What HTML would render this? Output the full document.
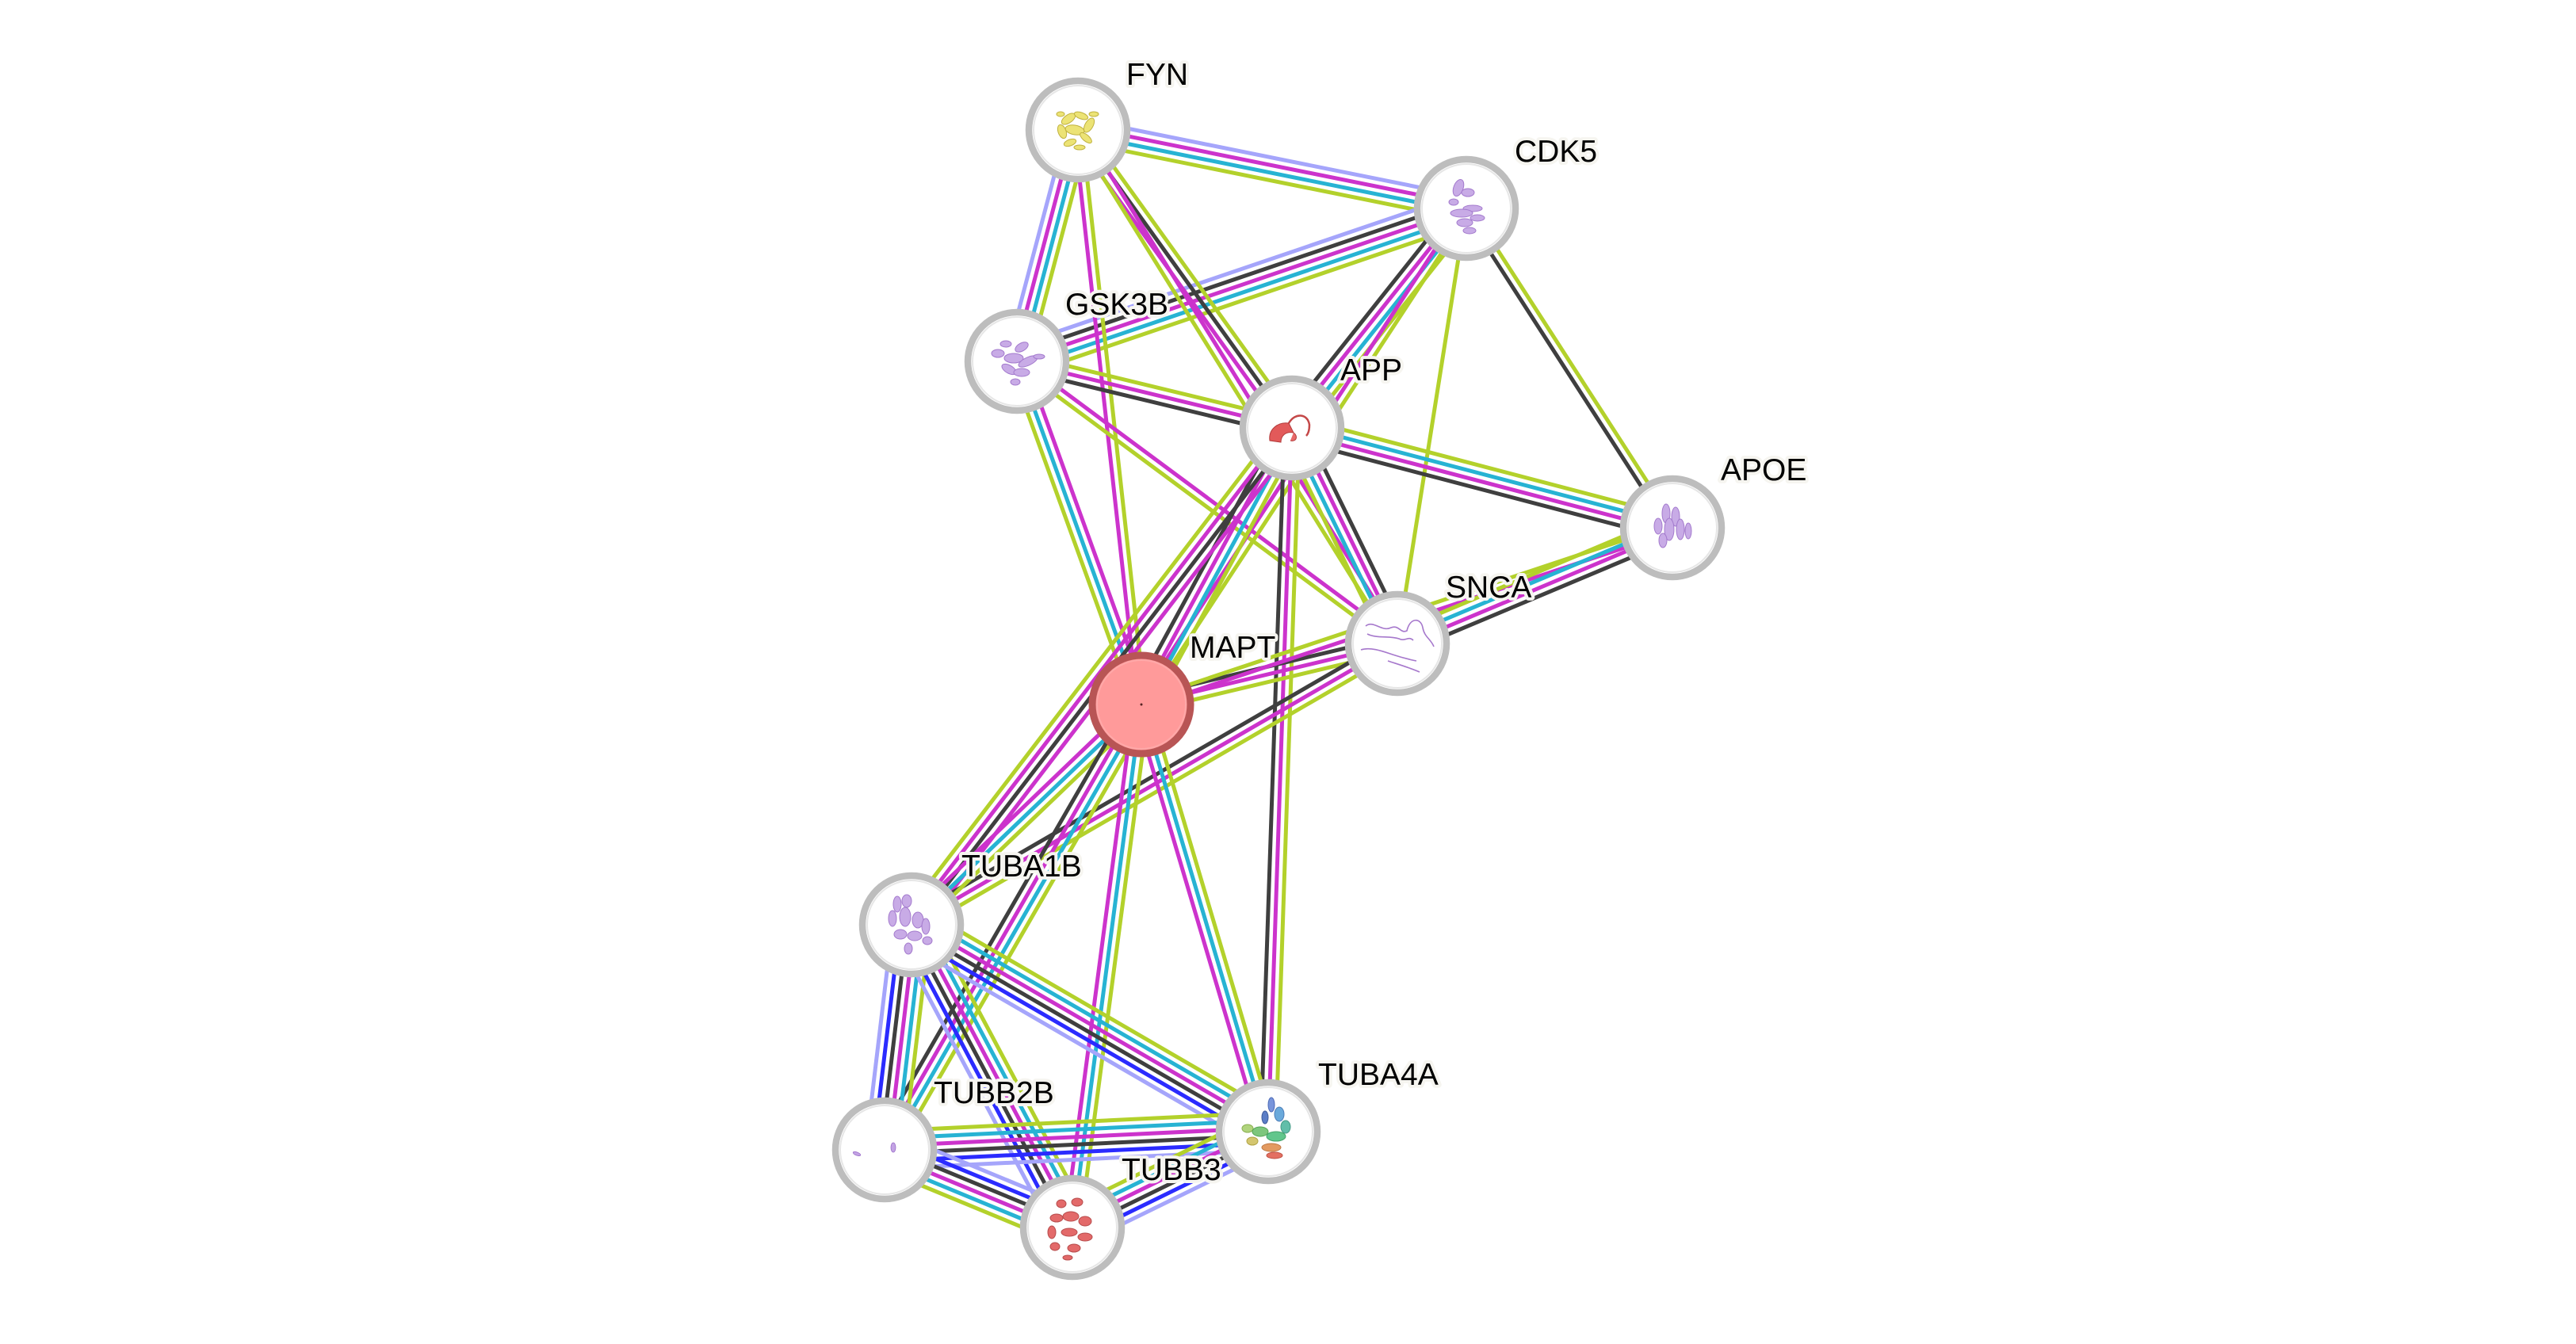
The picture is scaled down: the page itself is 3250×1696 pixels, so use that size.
<!DOCTYPE html>
<html>
<head>
<meta charset="utf-8">
<style>
  html, body { margin: 0; padding: 0; background: #ffffff; }
  svg { display: block; }
  .e path { fill: none; stroke-width: 5; }
  .v { stroke: #a5a5fb; }
  .b { stroke: #2b2bff; }
  .k { stroke: #3f3f3f; }
  .m { stroke: #cc33cc; }
  .c { stroke: #27b3d3; }
  .l { stroke: #b3d12b; }
  .ring { fill: #ffffff; stroke: #bdbdbd; stroke-width: 8.5; }
  .inner { fill: none; stroke: #e6e6e6; stroke-width: 2; }
  text { font-family: "Liberation Sans", Arial, sans-serif; font-size: 39px; fill: #000; stroke: #f6f5f0; stroke-width: 8; stroke-linejoin: round; paint-order: stroke; }
</style>
</head>
<body>
<svg width="3250" height="1696" viewBox="0 0 3250 1696" xmlns="http://www.w3.org/2000/svg">
<rect width="3250" height="1696" fill="#ffffff"/>

<g class="e">
  <!-- FYN-CDK5 -->
  <g transform="translate(1360 164) rotate(11.42)">
    <path class="v" d="M0 -14.25H500"/><path class="m" d="M0 -4.75H500"/><path class="c" d="M0 4.75H500"/><path class="l" d="M0 14.25H500"/>
  </g>
  <!-- FYN-GSK3B -->
  <g transform="translate(1360 164) rotate(104.77)">
    <path class="l" d="M0 -14.25H302"/><path class="c" d="M0 -4.75H302"/><path class="m" d="M0 4.75H302"/><path class="v" d="M0 14.25H302"/>
  </g>
  <!-- CDK5-GSK3B -->
  <g transform="translate(1850 263) rotate(161.2)">
    <path class="l" d="M0 -19H599"/><path class="c" d="M0 -9.5H599"/><path class="m" d="M0 0H599"/><path class="k" d="M0 9.5H599"/><path class="v" d="M0 19H599"/>
  </g>
  <!-- FYN-APP -->
  <g transform="translate(1360 164) rotate(54.32)">
    <path class="l" d="M0 -9.5H463"/><path class="k" d="M0 0H463"/><path class="m" d="M0 9.5H463"/>
  </g>
  <!-- FYN-SNCA -->
  <g transform="translate(1360 164) rotate(58.13)">
    <path class="m" d="M0 -4.75H763"/><path class="l" d="M0 4.75H763"/>
  </g>
  <!-- FYN-MAPT -->
  <g transform="translate(1360 164) rotate(83.70)">
    <path class="l" d="M0 -4.75H729"/><path class="m" d="M0 4.75H729"/>
  </g>
  <!-- GSK3B-APP -->
  <g transform="translate(1283 456) rotate(13.61)">
    <path class="l" d="M0 -9.5H357"/><path class="m" d="M0 0H357"/><path class="k" d="M0 9.5H357"/>
  </g>
  <!-- GSK3B-SNCA -->
  <g transform="translate(1283 456) rotate(36.56)">
    <path class="m" d="M0 -4.75H598"/><path class="l" d="M0 4.75H598"/>
  </g>
  <!-- GSK3B-MAPT -->
  <g transform="translate(1283 456) rotate(70.07)">
    <path class="m" d="M0 -9.5H461"/><path class="c" d="M0 0H461"/><path class="l" d="M0 9.5H461"/>
  </g>
  <!-- CDK5-APP -->
  <g transform="translate(1850 263) rotate(128.46)">
    <path class="l" d="M0 -14.25H354"/><path class="c" d="M0 -4.75H354"/><path class="m" d="M0 4.75H354"/><path class="k" d="M0 14.25H354"/>
  </g>
  <!-- CDK5-MAPT -->
  <g transform="translate(1850 263) rotate(123.22)">
    <path class="l" d="M0 -4.75H748"/><path class="m" d="M0 4.75H748"/>
  </g>
  <!-- CDK5-SNCA -->
  <g transform="translate(1850 263) rotate(99)">
    <path class="l" d="M0 0H556"/>
  </g>
  <!-- CDK5-APOE -->
  <g transform="translate(1850 263) rotate(57.17)">
    <path class="l" d="M0 -4.75H480"/><path class="k" d="M0 4.75H480"/>
  </g>
  <!-- APP-APOE -->
  <g transform="translate(1630 540) rotate(14.71)">
    <path class="l" d="M0 -14.25H496"/><path class="c" d="M0 -4.75H496"/><path class="m" d="M0 4.75H496"/><path class="k" d="M0 14.25H496"/>
  </g>
  <!-- APP-SNCA -->
  <g transform="translate(1630 540) rotate(63.94)">
    <path class="k" d="M0 -14.25H303"/><path class="m" d="M0 -4.75H303"/><path class="c" d="M0 4.75H303"/><path class="l" d="M0 14.25H303"/>
  </g>
  <!-- APP-MAPT -->
  <g transform="translate(1630 540) rotate(118.56)">
    <path class="l" d="M0 -14.25H397"/><path class="c" d="M0 -4.75H397"/><path class="m" d="M0 4.75H397"/><path class="k" d="M0 14.25H397"/>
  </g>
  <!-- APP-TUBA1B -->
  <g transform="translate(1630 540) rotate(127.44)">
    <path class="m" d="M0 -14.25H790"/><path class="k" d="M0 -4.75H790"/><path class="m" d="M0 4.75H790"/><path class="l" d="M0 14.25H790"/>
  </g>
  <!-- APP-TUBA4A -->
  <g transform="translate(1630 540) rotate(91.93)">
    <path class="l" d="M0 -9.5H889"/><path class="m" d="M0 0H889"/><path class="k" d="M0 9.5H889"/>
  </g>
  <!-- MAPT-SNCA -->
  <g transform="translate(1440 889) rotate(-13.41)">
    <path class="k" d="M0 -9.5H332"/><path class="m" d="M0 0H332"/><path class="l" d="M0 9.5H332"/>
  </g>
  <!-- MAPT-APOE -->
  <g transform="translate(1440 889) rotate(-18.41)">
    <path class="l" d="M0 -4.75H706"/><path class="m" d="M0 4.75H706"/>
  </g>
  <!-- SNCA-APOE -->
  <g transform="translate(1763 812) rotate(-22.82)">
    <path class="l" d="M0 -14.25H377"/><path class="c" d="M0 -4.75H377"/><path class="m" d="M0 4.75H377"/><path class="k" d="M0 14.25H377"/>
  </g>
  <!-- SNCA-TUBA1B -->
  <g transform="translate(1763 812) rotate(149.92)">
    <path class="l" d="M0 -9.5H708"/><path class="m" d="M0 0H708"/><path class="k" d="M0 9.5H708"/>
  </g>
  <!-- MAPT-TUBA1B -->
  <g transform="translate(1440 889) rotate(136.21)">
    <path class="l" d="M0 -9.5H402"/><path class="c" d="M0 0H402"/><path class="m" d="M0 9.5H402"/>
  </g>
  <!-- MAPT-TUBB2B -->
  <g transform="translate(1440 889) rotate(119.96)">
    <path class="l" d="M0 -14.25H649"/><path class="c" d="M0 -4.75H649"/><path class="m" d="M0 4.75H649"/><path class="k" d="M0 14.25H649"/>
  </g>
  <!-- MAPT-TUBB3 -->
  <g transform="translate(1440 889) rotate(97.51)">
    <path class="l" d="M0 -9.5H666"/><path class="c" d="M0 0H666"/><path class="m" d="M0 9.5H666"/>
  </g>
  <!-- MAPT-TUBA4A -->
  <g transform="translate(1440 889) rotate(73.47)">
    <path class="l" d="M0 -9.5H562"/><path class="c" d="M0 0H562"/><path class="m" d="M0 9.5H562"/>
  </g>
  <!-- TUBA1B-TUBB2B -->
  <g transform="translate(1150 1167) rotate(96.83)">
    <path class="l" d="M0 -23.75H286"/><path class="c" d="M0 -14.25H286"/><path class="m" d="M0 -4.75H286"/><path class="k" d="M0 4.75H286"/><path class="b" d="M0 14.25H286"/><path class="v" d="M0 23.75H286"/>
  </g>
  <!-- TUBA1B-TUBB3 -->
  <g transform="translate(1150 1167) rotate(62.01)">
    <path class="l" d="M0 -23.75H433"/><path class="c" d="M0 -14.25H433"/><path class="m" d="M0 -4.75H433"/><path class="k" d="M0 4.75H433"/><path class="b" d="M0 14.25H433"/><path class="v" d="M0 23.75H433"/>
  </g>
  <!-- TUBA1B-TUBA4A -->
  <g transform="translate(1150 1167) rotate(30.11)">
    <path class="l" d="M0 -23.75H520"/><path class="c" d="M0 -14.25H520"/><path class="m" d="M0 -4.75H520"/><path class="k" d="M0 4.75H520"/><path class="b" d="M0 14.25H520"/><path class="v" d="M0 23.75H520"/>
  </g>
  <!-- TUBB2B-TUBA4A -->
  <g transform="translate(1116 1451) rotate(-2.72)">
    <path class="l" d="M0 -23.75H485"/><path class="c" d="M0 -14.25H485"/><path class="m" d="M0 -4.75H485"/><path class="k" d="M0 4.75H485"/><path class="b" d="M0 14.25H485"/><path class="v" d="M0 23.75H485"/>
  </g>
  <!-- TUBB2B-TUBB3 -->
  <g transform="translate(1116 1451) rotate(22.47)">
    <path class="v" d="M0 -23.75H257"/><path class="b" d="M0 -14.25H257"/><path class="k" d="M0 -4.75H257"/><path class="m" d="M0 4.75H257"/><path class="c" d="M0 14.25H257"/><path class="l" d="M0 23.75H257"/>
  </g>
  <!-- TUBB3-TUBA4A -->
  <g transform="translate(1353 1549) rotate(-26.10)">
    <path class="l" d="M0 -23.75H275"/><path class="c" d="M0 -14.25H275"/><path class="m" d="M0 -4.75H275"/><path class="k" d="M0 4.75H275"/><path class="b" d="M0 14.25H275"/><path class="v" d="M0 23.75H275"/>
  </g>
</g>

<!-- Nodes -->
<!-- FYN -->
<g transform="translate(1360 164)">
  <circle class="ring" r="62"/><circle class="inner" r="56"/>
  <g fill="#ece26e" stroke="#bdae36" stroke-width="1" opacity="0.95">
    <ellipse cx="-12" cy="-14" rx="10" ry="5" transform="rotate(-35 -12 -14)"/>
    <ellipse cx="4" cy="-18" rx="9" ry="4" transform="rotate(20 4 -18)"/>
    <ellipse cx="14" cy="-6" rx="10" ry="5" transform="rotate(-60 14 -6)"/>
    <ellipse cx="-20" cy="2" rx="9" ry="5" transform="rotate(70 -20 2)"/>
    <ellipse cx="-4" cy="0" rx="12" ry="6" transform="rotate(10 -4 0)"/>
    <ellipse cx="10" cy="10" rx="9" ry="4" transform="rotate(40 10 10)"/>
    <ellipse cx="-10" cy="16" rx="8" ry="4" transform="rotate(-20 -10 16)"/>
    <ellipse cx="20" cy="-20" rx="6" ry="3"/>
    <ellipse cx="-22" cy="-20" rx="5" ry="3"/>
    <ellipse cx="2" cy="22" rx="7" ry="3"/>
  </g>
</g>
<!-- CDK5 -->
<g transform="translate(1850 263)">
  <circle class="ring" r="62"/><circle class="inner" r="56"/>
  <g fill="#c3a3e4" stroke="#9a6cc8" stroke-width="1" opacity="0.9">
    <ellipse cx="-10" cy="-26" rx="6" ry="11" transform="rotate(20 -10 -26)"/>
    <ellipse cx="2" cy="-20" rx="8" ry="5"/>
    <ellipse cx="-16" cy="-8" rx="6" ry="4"/>
    <ellipse cx="8" cy="0" rx="12" ry="4"/>
    <ellipse cx="-6" cy="6" rx="14" ry="5"/>
    <ellipse cx="14" cy="12" rx="9" ry="4"/>
    <ellipse cx="-2" cy="18" rx="10" ry="5"/>
    <ellipse cx="4" cy="28" rx="8" ry="4"/>
  </g>
</g>
<!-- GSK3B -->
<g transform="translate(1283 456)">
  <circle class="ring" r="62"/><circle class="inner" r="56"/>
  <g fill="#c3a3e4" stroke="#9a6cc8" stroke-width="1" opacity="0.9">
    <ellipse cx="-24" cy="-10" rx="8" ry="5"/>
    <ellipse cx="-14" cy="-22" rx="7" ry="4"/>
    <ellipse cx="6" cy="-18" rx="9" ry="5" transform="rotate(-30 6 -18)"/>
    <ellipse cx="-4" cy="-4" rx="12" ry="6"/>
    <ellipse cx="14" cy="0" rx="13" ry="5" transform="rotate(-25 14 0)"/>
    <ellipse cx="-10" cy="10" rx="10" ry="5" transform="rotate(30 -10 10)"/>
    <ellipse cx="6" cy="14" rx="10" ry="5"/>
    <ellipse cx="-2" cy="26" rx="6" ry="4"/>
    <ellipse cx="28" cy="-6" rx="7" ry="3"/>
  </g>
</g>
<!-- APP -->
<g transform="translate(1630 540)">
  <circle class="ring" r="62"/><circle class="inner" r="56"/>
  <path d="M-28 16 C-30 2 -18 -8 -4 -6 L2 6 C-8 4 -14 10 -14 18 Z" fill="#e25a5a" stroke="#b33a3a" stroke-width="1"/>
  <path d="M-4 -6 C4 -20 20 -18 22 -4 C22 4 20 8 18 10" fill="none" stroke="#c44848" stroke-width="2.5"/>
  <path d="M2 6 C8 10 6 18 -2 16" fill="#e86a6a" stroke="#b33a3a" stroke-width="1"/>
</g>
<!-- APOE -->
<g transform="translate(2110 666)">
  <circle class="ring" r="62"/><circle class="inner" r="56"/>
  <g fill="#c3a3e4" stroke="#9a6cc8" stroke-width="1" opacity="0.9">
    <ellipse cx="-8" cy="-18" rx="5" ry="12"/>
    <ellipse cx="4" cy="-14" rx="5" ry="12"/>
    <ellipse cx="-18" cy="-2" rx="5" ry="10"/>
    <ellipse cx="-4" cy="2" rx="6" ry="14"/>
    <ellipse cx="10" cy="2" rx="5" ry="13"/>
    <ellipse cx="20" cy="4" rx="4" ry="10"/>
    <ellipse cx="-12" cy="16" rx="5" ry="9"/>
  </g>
</g>
<!-- SNCA -->
<g transform="translate(1763 812)">
  <circle class="ring" r="62"/><circle class="inner" r="56"/>
  <g fill="none" stroke="#a678cc" stroke-width="1.6">
    <path d="M-40 -22 C-30 -30 -20 -14 -8 -20 C2 -24 4 -12 12 -16 C16 -34 30 -32 32 -20 C34 -8 42 -6 46 4"/>
    <path d="M-38 -12 C-26 -6 -10 -10 2 -6 C10 -2 14 -10 20 -4"/>
    <path d="M-46 8 C-34 4 -18 10 -6 14 C6 18 14 20 24 22"/>
    <path d="M-12 22 C0 26 14 30 28 36"/>
  </g>
</g>
<!-- MAPT -->
<g transform="translate(1440 889)">
  <circle r="62" fill="#ff9a9a" stroke="#b85555" stroke-width="9"/>
  <circle r="56" fill="none" stroke="#ffa8a8" stroke-width="2"/>
  <circle r="1.5" fill="#552222"/>
</g>
<!-- TUBA1B -->
<g transform="translate(1150 1167)">
  <circle class="ring" r="62"/><circle class="inner" r="56"/>
  <g fill="#c3a3e4" stroke="#9a6cc8" stroke-width="1" opacity="0.9">
    <ellipse cx="-18" cy="-26" rx="5" ry="10"/>
    <ellipse cx="-6" cy="-30" rx="6" ry="8"/>
    <ellipse cx="-24" cy="-8" rx="5" ry="10"/>
    <ellipse cx="-8" cy="-10" rx="7" ry="12"/>
    <ellipse cx="8" cy="-6" rx="7" ry="10"/>
    <ellipse cx="18" cy="2" rx="5" ry="10"/>
    <ellipse cx="-14" cy="12" rx="8" ry="6"/>
    <ellipse cx="4" cy="14" rx="9" ry="6"/>
    <ellipse cx="-4" cy="30" rx="5" ry="7"/>
    <ellipse cx="20" cy="20" rx="6" ry="5"/>
  </g>
</g>
<!-- TUBB2B -->
<g transform="translate(1116 1451)">
  <circle class="ring" r="62"/><circle class="inner" r="56"/>
  <g fill="#c3a3e4" stroke="#9a6cc8" stroke-width="0.8">
    <ellipse cx="-35" cy="5" rx="5" ry="2" transform="rotate(20 -35 5)"/>
    <ellipse cx="11" cy="-3" rx="3" ry="6"/>
  </g>
</g>
<!-- TUBA4A -->
<g transform="translate(1600 1428)">
  <circle class="ring" r="62"/><circle class="inner" r="56"/>
  <g stroke-width="1" opacity="0.9">
    <ellipse cx="4" cy="-34" rx="4" ry="9" fill="#6a8ad8" stroke="#3a5ab0"/>
    <ellipse cx="14" cy="-22" rx="6" ry="9" fill="#5aa0d8" stroke="#3a70b0"/>
    <ellipse cx="-4" cy="-18" rx="4" ry="8" fill="#4a70c0" stroke="#2a4a90"/>
    <ellipse cx="22" cy="-6" rx="6" ry="8" fill="#50b8a0" stroke="#30907a"/>
    <ellipse cx="-26" cy="-4" rx="7" ry="5" fill="#a8d070" stroke="#80a840"/>
    <ellipse cx="-10" cy="0" rx="10" ry="6" fill="#70c070" stroke="#409a40"/>
    <ellipse cx="10" cy="6" rx="12" ry="6" fill="#50c080" stroke="#309a5a"/>
    <ellipse cx="-20" cy="12" rx="7" ry="5" fill="#d0c060" stroke="#a89a30"/>
    <ellipse cx="4" cy="20" rx="12" ry="5" fill="#e09050" stroke="#b86a30"/>
    <ellipse cx="8" cy="30" rx="10" ry="4" fill="#e06050" stroke="#b84030"/>
  </g>
</g>
<!-- TUBB3 -->
<g transform="translate(1353 1549)">
  <circle class="ring" r="62"/><circle class="inner" r="56"/>
  <g fill="#e05a5a" stroke="#b03a3a" stroke-width="1" opacity="0.9">
    <ellipse cx="-14" cy="-30" rx="6" ry="5"/>
    <ellipse cx="6" cy="-32" rx="7" ry="5"/>
    <ellipse cx="-20" cy="-12" rx="8" ry="5"/>
    <ellipse cx="-2" cy="-14" rx="10" ry="6"/>
    <ellipse cx="16" cy="-8" rx="8" ry="6"/>
    <ellipse cx="-26" cy="6" rx="5" ry="8"/>
    <ellipse cx="-4" cy="6" rx="10" ry="5"/>
    <ellipse cx="16" cy="12" rx="9" ry="5"/>
    <ellipse cx="-22" cy="24" rx="6" ry="5"/>
    <ellipse cx="2" cy="26" rx="8" ry="5"/>
    <ellipse cx="-6" cy="38" rx="6" ry="3"/>
  </g>
</g>

<!-- Labels -->
<text x="1421" y="107">FYN</text>
<text x="1911" y="204">CDK5</text>
<text x="1344" y="397">GSK3B</text>
<text x="1691" y="480">APP</text>
<text x="2171" y="606">APOE</text>
<text x="1824" y="754">SNCA</text>
<text x="1501" y="830">MAPT</text>
<text x="1213" y="1106">TUBA1B</text>
<text x="1178" y="1392">TUBB2B</text>
<text x="1663" y="1369">TUBA4A</text>
<text x="1415" y="1489">TUBB3</text>
</svg>
</body>
</html>
